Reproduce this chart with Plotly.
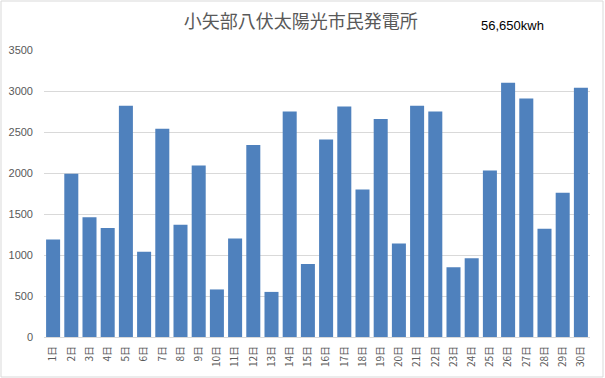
import plotly.graph_objects as go

days = [f"{i}日" for i in range(1, 31)]
output_kwh = [1190, 1990, 1460, 1330, 2820, 1040, 2540, 1370, 2090, 580,
              1200, 2340, 550, 2750, 890, 2410, 2810, 1800, 2660, 1140,
              2820, 2750, 850, 960, 2030, 3100, 2910, 1320, 1760, 3040]
title_text = "小矢部八伏太陽光市民発電所"
total_text = "56,650kwh"
y_ticks = [0, 500, 1000, 1500, 2000, 2500, 3000, 3500]

fig = go.Figure(go.Bar(x=days, y=output_kwh, marker_color="#4F81BD",
                       marker_line_width=0))

fig.update_layout(
    width=605, height=378,
    margin=dict(l=44, r=15, t=50, b=41, autoexpand=False),
    paper_bgcolor="white", plot_bgcolor="white",
    bargap=0.23,
    showlegend=False,
    title=dict(text=title_text, x=0.497, xanchor="center", yref="container",
               y=1 - 22/378, yanchor="middle",
               font=dict(family="Noto Sans CJK JP", size=18, color="#595959")),
    font=dict(family="Liberation Sans, Arial", color="#595959"),
    shapes=[dict(type="rect", xref="paper", yref="paper", x0=-43/546, x1=(546+13)/546,
                 y0=-40/287, y1=1+49/287, line=dict(color="#d9d9d9", width=1))],
    annotations=[dict(text=total_text, xref="paper", yref="paper",
                      x=(479-44)/546, xanchor="left", y=1+(337-25-287)/287, yanchor="middle",
                      showarrow=False, font=dict(family="Liberation Sans, Arial", size=13, color="black"))],
)
fig.update_xaxes(tickangle=-90, tickfont=dict(family="Noto Sans CJK JP", size=10, color="#595959"),
                 showline=True, linecolor="#d9d9d9", linewidth=1, ticks="", showgrid=False,
                 ticklabelstandoff=4, automargin=False)
fig.update_yaxes(range=[0, 3500], tickvals=y_ticks, showgrid=True, gridcolor="#d9d9d9",
                 gridwidth=1, zeroline=False, showline=False, ticks="",
                 tickfont=dict(family="Liberation Sans, Arial", size=11, color="#595959"),
                 ticklabelstandoff=10, automargin=False)

fig.write_html("out.html", config={"displayModeBar": False},
               post_script="document.body.style.margin='0';document.body.style.overflow='hidden';")
